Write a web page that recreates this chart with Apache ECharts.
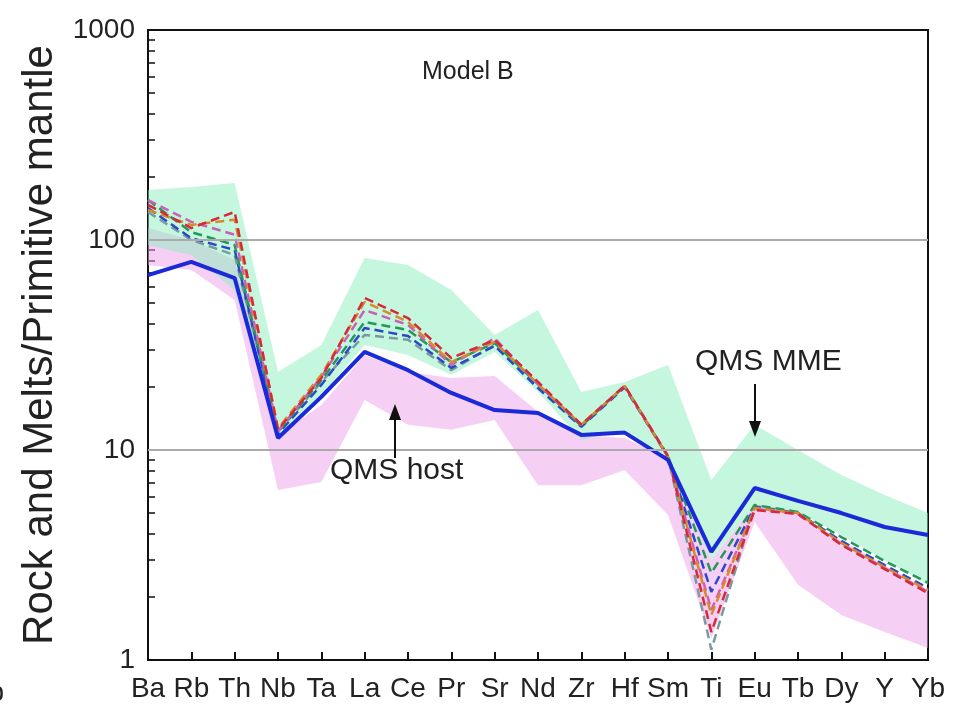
<!DOCTYPE html>
<html>
<head>
<meta charset="utf-8">
<title>Model B</title>
<script src="https://cdn.jsdelivr.net/npm/echarts@6/dist/echarts.min.js"></script>
<style>
  html, body { margin: 0; padding: 0; background: #fff; }
  #spider-chart { width: 973px; height: 717px; }
</style>
</head>
<body>
<div id="spider-chart"></div>
<script>
// elements on the x axis
const elements = ['Ba', 'Rb', 'Th', 'Nb', 'Ta', 'La', 'Ce', 'Pr', 'Sr', 'Nd', 'Zr', 'Hf', 'Sm', 'Ti', 'Eu', 'Tb', 'Dy', 'Y', 'Yb']

// ticks of the log axis (major + minor) and the grid lines
const yTicks = [1, 2, 3, 4, 5, 6, 7, 8, 9, 10, 20, 30, 40, 50, 60, 70, 80, 90, 100, 200, 300, 400, 500, 600, 700, 800, 900, 1000]
const yGridLines = [10, 100]

// QMS host rock (thick blue line)
const hostRock = [68, 78.6, 65.9, 11.4, 17.9, 29.3, 24.0, 18.7, 15.5, 15.0, 11.8, 12.1, 8.97, 3.27, 6.59, 5.72, 5.01, 4.30, 3.94]

// modelled melts (dashed)
const meltA = [147, 114, 136, 12.5, 22.0, 52.9, 42.5, 27.4, 33.4, 21.1, 13.2, 20.2, 9.36, 1.36, 5.18, 4.96, 3.53, 2.71, 2.08]
const meltB = [139, 118, 125, 12.7, 22.8, 50.7, 40.7, 26.2, 32.7, 20.6, 13.2, 20.2, 9.26, 1.64, 5.29, 5.01, 3.61, 2.77, 2.15]
const meltC = [155, 109, 94.7, 12.2, 21.5, 40.7, 37.3, 26.2, 32.3, 20.6, 13.0, 20.2, 9.36, 2.60, 5.47, 5.07, 3.85, 2.96, 2.33]
const meltD = [142, 102, 89.6, 11.9, 20.4, 38.1, 34.9, 24.6, 31.3, 19.7, 12.9, 19.9, 9.26, 2.11, 5.35, 5.01, 3.69, 2.83, 2.20]
const meltE = [155, 122, 106, 12.3, 22.3, 46.4, 39.4, 25.4, 34.1, 20.6, 13.2, 20.2, 9.26, 1.73, 5.24, 4.96, 3.57, 2.74, 2.11]
const meltF = [136, 100, 84.8, 12.2, 21.1, 35.3, 33.5, 24.0, 31.6, 20.2, 13.0, 20.2, 9.26, 1.12, 5.41, 5.01, 3.65, 2.80, 2.15]

// QMS MME range (green field)
const mmeLow = [94.7, 84.8, 57.8, 11.2, 18.3, 31.6, 28.3, 22.8, 29.3, 18.9, 11.2, 12.5, 8.77, 2.99, 5.47, 5.07, 3.94, 2.99, 2.28]
const mmeHigh = [173, 179, 187, 23.5, 31.6, 82.1, 76.0, 57.8, 35.3, 46.4, 18.9, 21.1, 25.4, 7.20, 13.2, 10.0, 7.60, 6.11, 5.01]

// QMS host range (pink field)
const hostLow = [76.0, 71.9, 51.8, 6.45, 7.04, 17.3, 13.2, 12.5, 13.9, 6.80, 6.80, 8.03, 4.90, 1.27, 4.54, 2.28, 1.64, 1.36, 1.14]
const hostHigh = [114, 100, 80.3, 11.8, 16.4, 28.3, 23.5, 22.0, 22.5, 15.2, 11.8, 11.4, 9.16, 2.99, 5.47, 4.90, 3.73, 2.83, 2.15]

const FONT = 'Liberation Sans, Arial, Helvetica, sans-serif'

const bandSeries = (name, low, high, color) => [
  {
    name: name + ' low',
    type: 'line',
    stack: name,
    data: low,
    symbol: 'none',
    silent: true,
    lineStyle: { opacity: 0 },
  },
  {
    name: name,
    type: 'line',
    stack: name,
    data: high.map((v, i) => v - low[i]),
    symbol: 'none',
    silent: true,
    lineStyle: { opacity: 0 },
    areaStyle: { color: color, opacity: 1 },
  },
]

const meltSeries = (data, color) => ({
  type: 'line',
  data: data,
  symbol: 'none',
  silent: true,
  lineStyle: { color: color, width: 2.5, type: [9, 5] },
})

const arrow = (x, yTail, yTip) => {
  const dir = yTip < yTail ? 1 : -1
  return [
    {
      type: 'line',
      z: 100,
      shape: { x1: x, y1: yTail, x2: x, y2: yTip + dir * 12 },
      style: { stroke: '#111', lineWidth: 2 },
    },
    {
      type: 'polygon',
      z: 100,
      shape: { points: [[x, yTip], [x - 6, yTip + dir * 16], [x + 6, yTip + dir * 16]] },
      style: { fill: '#111' },
    },
  ]
}

const series = [
  ...bandSeries('host', hostLow, hostHigh, 'rgba(238, 160, 236, 0.5)'),
  ...bandSeries('mme', mmeLow, mmeHigh, 'rgba(140, 238, 190, 0.5)'),
  meltSeries(meltF, '#7a9aa0'),
  meltSeries(meltD, '#2a48c8'),
  meltSeries(meltC, '#25975a'),
  meltSeries(meltE, '#c860b8'),
  meltSeries(meltB, '#d9882e'),
  meltSeries(meltA, '#d42a3a'),
  {
    name: 'QMS host',
    type: 'line',
    data: hostRock,
    symbol: 'none',
    silent: true,
    lineStyle: { color: '#1a2ad8', width: 4 },
  },
]

// grey horizontal grid lines, drawn with the first series so the fields sit over them
series[0].markLine = {
  silent: true,
  symbol: 'none',
  label: { show: false },
  lineStyle: { color: '#aaa', width: 2, type: 'solid' },
  data: yGridLines.map((v) => ({ yAxis: v })),
}

const chartOption = {
  animation: false,
  backgroundColor: '#fff',
  title: {
    text: 'Model B',
    left: 417,
    top: 55,
    textStyle: { fontFamily: FONT, fontSize: 25, fontWeight: 'normal', color: '#222' },
  },
  grid: {
    left: 148,
    right: 45,
    top: 30,
    bottom: 57,
    show: true,
    borderColor: '#111',
    borderWidth: 2,
    backgroundColor: 'transparent',
  },
  xAxis: {
    type: 'category',
    data: elements,
    boundaryGap: false,
    axisLine: { lineStyle: { color: '#111', width: 2 } },
    axisTick: { inside: true, length: 8, interval: 0, lineStyle: { color: '#111', width: 2 } },
    axisLabel: { interval: 0, margin: 15, fontFamily: FONT, fontSize: 28, color: '#222' },
    splitLine: { show: false },
  },
  yAxis: {
    type: 'log',
    logBase: 10,
    min: 1,
    max: 1000,
    name: 'Rock and Melts/Primitive mantle',
    nameLocation: 'middle',
    nameGap: 72,
    nameTextStyle: { fontFamily: FONT, fontSize: 42, color: '#222' },
    axisLine: { show: true, lineStyle: { color: '#111', width: 2 } },
    axisTick: { show: true, inside: true, length: 7, customValues: yTicks, lineStyle: { color: '#111', width: 1.5 } },
    axisLabel: { margin: 13, fontFamily: FONT, fontSize: 28, color: '#222', formatter: (v) => String(v) },
    splitLine: { show: false },
  },
  graphic: [
    { type: 'text', z: 100, left: 330, top: 456, style: { text: 'QMS host', font: '30px ' + FONT, fill: '#222' } },
    { type: 'text', z: 100, left: 695, top: 347, style: { text: 'QMS MME', font: '30px ' + FONT, fill: '#222' } },
    { type: 'text', z: 100, left: -11, top: 680, style: { text: 'b', font: '27px ' + FONT, fill: '#222' } },
    ...arrow(395, 458, 404),
    ...arrow(755, 384, 437),
  ],
  series: series,
}

const spiderChart = echarts.init(document.getElementById('spider-chart'))
spiderChart.setOption(chartOption)
</script>
</body>
</html>
